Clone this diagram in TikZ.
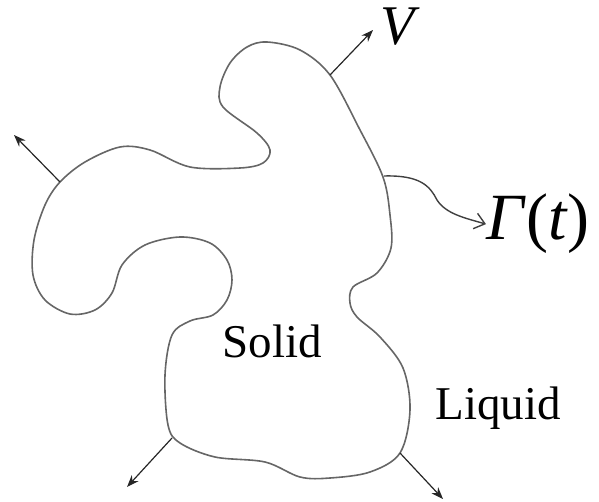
\documentclass[tikz,border=0pt]{standalone}
\usepackage{fontspec}
\setmainfont{Liberation Serif}
\newfontfamily\labelfont{Liberation Serif}
\usetikzlibrary{arrows.meta}

\begin{document}
\begin{tikzpicture}[
      x=0.5pt,y=-0.5pt,
      front/.style={draw=black!60,line width=0.8pt},
      normal/.style={draw=black!85,line width=0.6pt,
        -{Stealth[length=6pt,width=4.5pt]}},
      pointer/.style={draw=black!75,line width=0.7pt,
        -{Straight Barb[length=5pt,width=8pt]}},
      lbl/.style={inner sep=0pt,anchor=base west}
    ]
    \useasboundingbox (0,0) rectangle (599,502);
    % the solid-liquid interface
    \draw[front] plot[smooth cycle,tension=0.55] coordinates {
      (267,42) (300,50) (330,75) (359,128) (383,177)
      (390,215) (391,248) (377,273) (353,287) (350,303) (357,317)
      (380,337) (403,368) (410,410) (400,453) (370,472) (330,478)
      (300,477) (265,462) (215,457) (180,443) (168,425) (165,375)
      (172,335) (190,321) (213,315) (227,300) (232,280) (227,260)
      (210,243) (180,237) (145,245) (122,265) (112,293) (95,310)
      (70,314) (45,300) (33,275) (34,240) (45,205) (60,182)
      (85,162) (120,147) (150,150) (190,167) (240,168) (263,163)
      (270,150) (257,133) (223,107) (220,87) (230,63) (247,47)};
    % points on the front and the ends of the normals
    \coordinate (pV) at (330,75);
    \coordinate (tV) at (373,30);
    \coordinate (pNW) at (60,182);
    \coordinate (tNW) at (14,135);
    \coordinate (pSW) at (172,438);
    \coordinate (tSW) at (127,487);
    \coordinate (pSE) at (400,453);
    \coordinate (tSE) at (443,499);
    \coordinate (pG) at (384,176);
    % labels
    \node[lbl,font=\labelfont\fontsize{28}{32}\selectfont] (V) at (380,45)
      {\textit{V}};
    \node[lbl,font=\labelfont\fontsize{33}{38}\selectfont] (G) at (486,240)
      {\textit{Γ}(\textit{t})};
    \node[lbl,font=\labelfont\fontsize{23.5}{28}\selectfont] (S) at (222,357)
      {Solid};
    \node[lbl,font=\labelfont\fontsize{23.5}{28}\selectfont] (L) at (435,419)
      {Liquid};
    % normal velocity arrows
    \draw[normal] (pV) -- (tV);
    \draw[normal] (pNW) -- (tNW);
    \draw[normal] (pSW) -- (tSW);
    \draw[normal] (pSE) -- (tSE);
    \draw[pointer] (pG) .. controls (420,175) and (430,186) .. (437,200)
      .. controls (446,214) and (465,218) .. (G.west);
  \end{tikzpicture}
\end{document}
